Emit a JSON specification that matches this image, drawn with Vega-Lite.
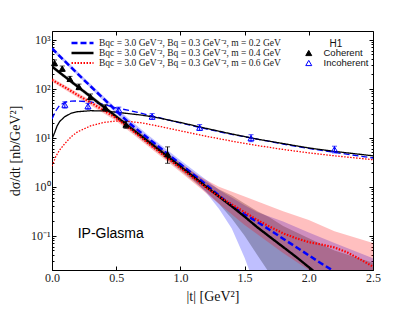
{
  "$schema": "https://vega.github.io/schema/vega-lite/v6.json",
  "width": 321,
  "height": 239,
  "autosize": {"type": "none"},
  "padding": {"left": 52, "top": 31, "right": 42, "bottom": 42},
  "config": {
    "view": {"stroke": "black", "strokeWidth": 1},
    "axis": {"grid": false, "domain": false, "tickColor": "black", "labelFont": "Liberation Serif", "labelFontSize": 12, "labelColor": "#222", "titleFont": "Liberation Serif", "titleFontSize": 14, "titleFontWeight": "normal", "titleColor": "#111", "labelFlush": false, "labelOverlap": false, "labelBound": false}
  },
  "datasets": {
    "coh": [
      {"m": "0.2", "t": 0, "v": 661}, {"m": "0.2", "t": 0.1, "v": 363}, {"m": "0.2", "t": 0.2, "v": 200}, {"m": "0.2", "t": 0.3, "v": 112}, {"m": "0.2", "t": 0.4, "v": 63.1}, {"m": "0.2", "t": 0.5, "v": 35.5}, {"m": "0.2", "t": 0.6, "v": 20.0}, {"m": "0.2", "t": 0.7, "v": 12.3}, {"m": "0.2", "t": 0.8, "v": 7.59}, {"m": "0.2", "t": 0.9, "v": 4.68}, {"m": "0.2", "t": 1.0, "v": 2.88}, {"m": "0.2", "t": 1.1, "v": 1.78}, {"m": "0.2", "t": 1.2, "v": 1.10}, {"m": "0.2", "t": 1.3, "v": 0.661}, {"m": "0.2", "t": 1.4, "v": 0.407}, {"m": "0.2", "t": 1.5, "v": 0.275}, {"m": "0.2", "t": 1.6, "v": 0.191}, {"m": "0.2", "t": 1.7, "v": 0.129}, {"m": "0.2", "t": 1.8, "v": 0.0871}, {"m": "0.2", "t": 1.9, "v": 0.0589}, {"m": "0.2", "t": 2.0, "v": 0.0398}, {"m": "0.2", "t": 2.1, "v": 0.0269}, {"m": "0.2", "t": 2.2, "v": 0.0186}, {"m": "0.2", "t": 2.3, "v": 0.0126},
      {"m": "0.4", "t": 0, "v": 282}, {"m": "0.4", "t": 0.1, "v": 176}, {"m": "0.4", "t": 0.2, "v": 110}, {"m": "0.4", "t": 0.3, "v": 68.9}, {"m": "0.4", "t": 0.4, "v": 43.1}, {"m": "0.4", "t": 0.5, "v": 26.9}, {"m": "0.4", "t": 0.6, "v": 16.8}, {"m": "0.4", "t": 0.7, "v": 10.5}, {"m": "0.4", "t": 0.8, "v": 6.58}, {"m": "0.4", "t": 0.9, "v": 4.11}, {"m": "0.4", "t": 1.0, "v": 2.57}, {"m": "0.4", "t": 1.1, "v": 1.61}, {"m": "0.4", "t": 1.2, "v": 1.0}, {"m": "0.4", "t": 1.3, "v": 0.631}, {"m": "0.4", "t": 1.4, "v": 0.398}, {"m": "0.4", "t": 1.5, "v": 0.245}, {"m": "0.4", "t": 1.6, "v": 0.148}, {"m": "0.4", "t": 1.7, "v": 0.0933}, {"m": "0.4", "t": 1.8, "v": 0.0589}, {"m": "0.4", "t": 1.9, "v": 0.0372}, {"m": "0.4", "t": 2.0, "v": 0.0229}, {"m": "0.4", "t": 2.1, "v": 0.0141},
      {"m": "0.6", "t": 0, "v": 151}, {"m": "0.6", "t": 0.1, "v": 107}, {"m": "0.6", "t": 0.2, "v": 74.1}, {"m": "0.6", "t": 0.3, "v": 52.5}, {"m": "0.6", "t": 0.4, "v": 36.3}, {"m": "0.6", "t": 0.5, "v": 25.1}, {"m": "0.6", "t": 0.6, "v": 15.8}, {"m": "0.6", "t": 0.7, "v": 9.77}, {"m": "0.6", "t": 0.8, "v": 6.03}, {"m": "0.6", "t": 0.9, "v": 3.80}, {"m": "0.6", "t": 1.0, "v": 2.40}, {"m": "0.6", "t": 1.1, "v": 1.51}, {"m": "0.6", "t": 1.2, "v": 0.955}, {"m": "0.6", "t": 1.3, "v": 0.631}, {"m": "0.6", "t": 1.4, "v": 0.437}, {"m": "0.6", "t": 1.5, "v": 0.302}, {"m": "0.6", "t": 1.6, "v": 0.209}, {"m": "0.6", "t": 1.7, "v": 0.151}, {"m": "0.6", "t": 1.8, "v": 0.112}, {"m": "0.6", "t": 1.9, "v": 0.0891}, {"m": "0.6", "t": 2.0, "v": 0.0741}, {"m": "0.6", "t": 2.1, "v": 0.0661}, {"m": "0.6", "t": 2.2, "v": 0.0575}, {"m": "0.6", "t": 2.3, "v": 0.0457}, {"m": "0.6", "t": 2.4, "v": 0.0331}, {"m": "0.6", "t": 2.5, "v": 0.0234}
    ],
    "inc": [
      {"m": "0.2", "t": 0, "v": 24.0}, {"m": "0.2", "t": 0.03, "v": 35.5}, {"m": "0.2", "t": 0.06, "v": 45.7}, {"m": "0.2", "t": 0.1, "v": 52.5}, {"m": "0.2", "t": 0.15, "v": 55.6}, {"m": "0.2", "t": 0.2, "v": 56.2}, {"m": "0.2", "t": 0.3, "v": 53.7}, {"m": "0.2", "t": 0.4, "v": 47.9}, {"m": "0.2", "t": 0.5, "v": 40.7}, {"m": "0.2", "t": 0.6, "v": 35.9}, {"m": "0.2", "t": 0.7, "v": 31.3}, {"m": "0.2", "t": 0.8, "v": 26.9}, {"m": "0.2", "t": 1.0, "v": 20.0}, {"m": "0.2", "t": 1.2, "v": 15.1}, {"m": "0.2", "t": 1.4, "v": 11.7}, {"m": "0.2", "t": 1.6, "v": 9.33}, {"m": "0.2", "t": 1.8, "v": 7.41}, {"m": "0.2", "t": 2.0, "v": 6.03}, {"m": "0.2", "t": 2.2, "v": 5.01}, {"m": "0.2", "t": 2.5, "v": 3.85},
      {"m": "0.4", "t": 0, "v": 9.33}, {"m": "0.4", "t": 0.02, "v": 12.6}, {"m": "0.4", "t": 0.04, "v": 17.4}, {"m": "0.4", "t": 0.06, "v": 21.4}, {"m": "0.4", "t": 0.1, "v": 26.9}, {"m": "0.4", "t": 0.15, "v": 31.6}, {"m": "0.4", "t": 0.2, "v": 33.9}, {"m": "0.4", "t": 0.3, "v": 35.5}, {"m": "0.4", "t": 0.4, "v": 35.1}, {"m": "0.4", "t": 0.5, "v": 33.1}, {"m": "0.4", "t": 0.6, "v": 30.9}, {"m": "0.4", "t": 0.7, "v": 28.8}, {"m": "0.4", "t": 0.8, "v": 26.3}, {"m": "0.4", "t": 1.0, "v": 20.4}, {"m": "0.4", "t": 1.2, "v": 15.5}, {"m": "0.4", "t": 1.4, "v": 11.9}, {"m": "0.4", "t": 1.6, "v": 9.33}, {"m": "0.4", "t": 1.8, "v": 7.59}, {"m": "0.4", "t": 2.0, "v": 6.17}, {"m": "0.4", "t": 2.2, "v": 5.25}, {"m": "0.4", "t": 2.5, "v": 4.27},
      {"m": "0.6", "t": 0, "v": 2.63}, {"m": "0.6", "t": 0.03, "v": 4.17}, {"m": "0.6", "t": 0.06, "v": 5.62}, {"m": "0.6", "t": 0.1, "v": 7.59}, {"m": "0.6", "t": 0.15, "v": 10.5}, {"m": "0.6", "t": 0.2, "v": 13.2}, {"m": "0.6", "t": 0.3, "v": 17.4}, {"m": "0.6", "t": 0.4, "v": 20.4}, {"m": "0.6", "t": 0.5, "v": 21.9}, {"m": "0.6", "t": 0.6, "v": 21.4}, {"m": "0.6", "t": 0.7, "v": 20.0}, {"m": "0.6", "t": 0.8, "v": 17.8}, {"m": "0.6", "t": 1.0, "v": 13.8}, {"m": "0.6", "t": 1.2, "v": 10.7}, {"m": "0.6", "t": 1.4, "v": 8.51}, {"m": "0.6", "t": 1.6, "v": 6.92}, {"m": "0.6", "t": 1.8, "v": 5.75}, {"m": "0.6", "t": 2.0, "v": 4.90}, {"m": "0.6", "t": 2.2, "v": 4.27}, {"m": "0.6", "t": 2.5, "v": 3.55}
    ],
    "band": [
      {"m": "0.2", "t": 0, "lo": 603, "hi": 724}, {"m": "0.2", "t": 0.25, "lo": 138, "hi": 166}, {"m": "0.2", "t": 0.5, "lo": 30.9, "hi": 39.8}, {"m": "0.2", "t": 0.75, "lo": 8.51, "hi": 11.2}, {"m": "0.2", "t": 1.0, "lo": 2.40, "hi": 3.47}, {"m": "0.2", "t": 1.1, "lo": 1.41, "hi": 2.19}, {"m": "0.2", "t": 1.2, "lo": 0.759, "hi": 1.38}, {"m": "0.2", "t": 1.3, "lo": 0.355, "hi": 0.871}, {"m": "0.2", "t": 1.4, "lo": 0.141, "hi": 0.603}, {"m": "0.2", "t": 1.5, "lo": 0.0355, "hi": 0.417}, {"m": "0.2", "t": 1.55, "lo": 0.0158, "hi": 0.355}, {"m": "0.2", "t": 1.6, "lo": 0.0063, "hi": 0.302}, {"m": "0.2", "t": 1.8, "lo": 0.003, "hi": 0.195}, {"m": "0.2", "t": 2.0, "lo": 0.002, "hi": 0.117}, {"m": "0.2", "t": 2.2, "lo": 0.0015, "hi": 0.0708}, {"m": "0.2", "t": 2.5, "lo": 0.001, "hi": 0.0347},
      {"m": "0.4", "t": 0, "lo": 257, "hi": 309}, {"m": "0.4", "t": 0.5, "lo": 24.0, "hi": 30.2}, {"m": "0.4", "t": 1.0, "lo": 2.14, "hi": 3.09}, {"m": "0.4", "t": 1.2, "lo": 0.794, "hi": 1.26}, {"m": "0.4", "t": 1.3, "lo": 0.447, "hi": 0.891}, {"m": "0.4", "t": 1.4, "lo": 0.224, "hi": 0.661}, {"m": "0.4", "t": 1.5, "lo": 0.1, "hi": 0.457}, {"m": "0.4", "t": 1.6, "lo": 0.0398, "hi": 0.316}, {"m": "0.4", "t": 1.69, "lo": 0.0178, "hi": 0.240}, {"m": "0.4", "t": 1.8, "lo": 0.0063, "hi": 0.158}, {"m": "0.4", "t": 2.0, "lo": 0.0025, "hi": 0.0891}, {"m": "0.4", "t": 2.2, "lo": 0.0016, "hi": 0.0501}, {"m": "0.4", "t": 2.5, "lo": 0.001, "hi": 0.0282},
      {"m": "0.6", "t": 0, "lo": 138, "hi": 166}, {"m": "0.6", "t": 0.5, "lo": 21.9, "hi": 28.8}, {"m": "0.6", "t": 1.0, "lo": 2.0, "hi": 3.02}, {"m": "0.6", "t": 1.15, "lo": 0.955, "hi": 1.62}, {"m": "0.6", "t": 1.3, "lo": 0.447, "hi": 1.0}, {"m": "0.6", "t": 1.5, "lo": 0.166, "hi": 0.631}, {"m": "0.6", "t": 1.8, "lo": 0.0447, "hi": 0.316}, {"m": "0.6", "t": 2.0, "lo": 0.02, "hi": 0.209}, {"m": "0.6", "t": 2.2, "lo": 0.0079, "hi": 0.123}, {"m": "0.6", "t": 2.5, "lo": 0.0032, "hi": 0.0708}
    ],
    "h1": [
      {"kind": "Coherent", "t": 0.02, "v": 333, "lo": 290, "hi": 385},
      {"kind": "Coherent", "t": 0.08, "v": 256, "lo": 225, "hi": 290},
      {"kind": "Coherent", "t": 0.14, "v": 158, "lo": 140, "hi": 178},
      {"kind": "Coherent", "t": 0.21, "v": 109, "lo": 95, "hi": 124},
      {"kind": "Coherent", "t": 0.30, "v": 68, "lo": 59, "hi": 78},
      {"kind": "Coherent", "t": 0.415, "v": 41, "lo": 35, "hi": 47},
      {"kind": "Coherent", "t": 0.576, "v": 18.4, "lo": 15.5, "hi": 21.5},
      {"kind": "Coherent", "t": 0.90, "v": 4.6, "lo": 3.0, "hi": 6.5},
      {"kind": "Incoherent", "t": 0.10, "v": 47, "lo": 40, "hi": 54},
      {"kind": "Incoherent", "t": 0.28, "v": 44, "lo": 38, "hi": 50},
      {"kind": "Incoherent", "t": 0.52, "v": 37, "lo": 32, "hi": 42},
      {"kind": "Incoherent", "t": 0.78, "v": 27, "lo": 23.5, "hi": 31},
      {"kind": "Incoherent", "t": 1.15, "v": 16, "lo": 14, "hi": 18.5},
      {"kind": "Incoherent", "t": 1.55, "v": 9.8, "lo": 8.3, "hi": 11.5},
      {"kind": "Incoherent", "t": 2.2, "v": 5.8, "lo": 4.9, "hi": 6.7}
    ],
    "note": [{"label": "IP-Glasma"}]
  },
  "layer": [
    {
      "data": {"name": "band"},
      "mark": {"type": "area", "clip": true, "opacity": 0.25},
      "encoding": {
        "x": {"field": "t", "type": "quantitative", "scale": {"domain": [0, 2.5], "nice": false, "zero": false},
              "axis": {"orient": "bottom", "values": [0, 0.5, 1, 1.5, 2, 2.5], "format": ".1f", "tickSize": -4, "labelPadding": 6, "title": "|t| [GeV²]", "titlePadding": 6}},
        "y": {"field": "lo", "type": "quantitative", "scale": {"type": "log", "domain": [0.02, 1500], "nice": false},
              "axis": {"orient": "left", "values": [0.1, 1, 10, 100, 1000], "tickSize": -4, "labelPadding": 6, "title": "dσ/dt [nb/GeV²]", "titlePadding": 8,
                       "labelExpr": "datum.value >= 999 ? '10³' : datum.value >= 99 ? '10²' : datum.value >= 9 ? '10¹' : datum.value >= 0.9 ? '10⁰' : '10⁻¹'"}},
        "y2": {"field": "hi"},
        "fill": {"field": "m", "type": "nominal", "scale": {"domain": ["0.2", "0.4", "0.6"], "range": ["#0000ff", "#000000", "#ff0000"]}, "legend": null}
      }
    },
    {
      "data": {"name": "inc"},
      "mark": {"type": "line", "clip": true, "strokeWidth": 1.3},
      "encoding": {
        "x": {"field": "t", "type": "quantitative", "axis": null},
        "y": {"field": "v", "type": "quantitative", "scale": {"type": "log"},
              "axis": {"orient": "left", "values": [0.02,0.03,0.04,0.05,0.06,0.07,0.08,0.09,0.2,0.3,0.4,0.5,0.6,0.7,0.8,0.9,2,3,4,5,6,7,8,9,20,30,40,50,60,70,80,90,200,300,400,500,600,700,800,900], "labels": false, "tickSize": -2, "title": null}},
        "stroke": {"field": "m", "type": "nominal", "scale": {"domain": ["0.2", "0.4", "0.6"], "range": ["#0000ff", "#000000", "#ff0000"]}, "legend": null},
        "strokeDash": {"field": "m", "type": "nominal", "scale": {"domain": ["0.2", "0.4", "0.6"], "range": [[6, 3], [1, 0], [1.5, 1.5]]}, "legend": null}
      }
    },
    {
      "data": {"name": "coh"},
      "mark": {"type": "line", "clip": true},
      "encoding": {
        "x": {"field": "t", "type": "quantitative", "axis": {"orient": "top", "values": [0, 0.5, 1, 1.5, 2, 2.5], "labels": false, "tickSize": -4, "title": null}},
        "y": {"field": "v", "type": "quantitative", "scale": {"type": "log"},
              "axis": {"orient": "right", "values": [0.1, 1, 10, 100, 1000], "labels": false, "tickSize": -4, "title": null}},
        "stroke": {"field": "m", "type": "nominal", "scale": {"domain": ["0.2", "0.4", "0.6"], "range": ["#0000ff", "#000000", "#ff0000"]},
                   "legend": {"title": null, "orient": "none", "legendX": 18, "legendY": 7.5, "symbolType": "stroke", "symbolSize": 484, "clipHeight": 9, "rowPadding": 0, "padding": 0, "labelOffset": 4, "labelLimit": 400, "labelFont": "Liberation Serif", "labelFontSize": 9.5, "labelFontWeight": "normal", "labelColor": "#222", "labelExpr": "'Bqc = 3.0 GeV⁻², Bq = 0.3 GeV⁻², m = ' + datum.label + ' GeV'"}},
        "strokeDash": {"field": "m", "type": "nominal", "scale": {"domain": ["0.2", "0.4", "0.6"], "range": [[6, 3], [1, 0], [1.5, 1.5]]},
                   "legend": {"title": null, "orient": "none", "legendX": 18, "legendY": 7.5, "symbolType": "stroke", "symbolSize": 484, "clipHeight": 9, "rowPadding": 0, "padding": 0, "labelOffset": 4, "labelLimit": 400, "labelFont": "Liberation Serif", "labelFontSize": 9.5, "labelFontWeight": "normal", "labelColor": "#222", "labelExpr": "'Bqc = 3.0 GeV⁻², Bq = 0.3 GeV⁻², m = ' + datum.label + ' GeV'"}},
        "strokeWidth": {"field": "m", "type": "nominal", "scale": {"domain": ["0.2", "0.4", "0.6"], "range": [2.5, 2.2, 1.6]},
                   "legend": {"title": null, "orient": "none", "legendX": 18, "legendY": 7.5, "symbolType": "stroke", "symbolSize": 484, "clipHeight": 9, "rowPadding": 0, "padding": 0, "labelOffset": 4, "labelLimit": 400, "labelFont": "Liberation Serif", "labelFontSize": 9.5, "labelFontWeight": "normal", "labelColor": "#222", "labelExpr": "'Bqc = 3.0 GeV⁻², Bq = 0.3 GeV⁻², m = ' + datum.label + ' GeV'"}}
      }
    },
    {
      "data": {"name": "h1"},
      "transform": [{"filter": "datum.kind == 'Coherent'"}],
      "mark": {"type": "errorbar", "ticks": true, "color": "black", "thickness": 1},
      "encoding": {
        "x": {"field": "t", "type": "quantitative", "axis": null},
        "y": {"field": "lo", "type": "quantitative", "scale": {"type": "log"}, "axis": null},
        "y2": {"field": "hi"}
      }
    },
    {
      "data": {"name": "h1"},
      "transform": [{"filter": "datum.kind == 'Incoherent'"}],
      "mark": {"type": "errorbar", "ticks": true, "color": "#0000ff", "thickness": 1},
      "encoding": {
        "x": {"field": "t", "type": "quantitative", "axis": null},
        "y": {"field": "lo", "type": "quantitative", "scale": {"type": "log"}, "axis": null},
        "y2": {"field": "hi"}
      }
    },
    {
      "data": {"name": "h1"},
      "mark": {"type": "point", "shape": "triangle-up", "filled": true, "size": 36, "strokeWidth": 1, "opacity": 1},
      "encoding": {
        "x": {"field": "t", "type": "quantitative", "axis": null},
        "y": {"field": "v", "type": "quantitative", "scale": {"type": "log"},
              "axis": {"orient": "right", "values": [0.02,0.03,0.04,0.05,0.06,0.07,0.08,0.09,0.2,0.3,0.4,0.5,0.6,0.7,0.8,0.9,2,3,4,5,6,7,8,9,20,30,40,50,60,70,80,90,200,300,400,500,600,700,800,900], "labels": false, "tickSize": -2, "title": null}},
        "fill": {"field": "kind", "type": "nominal", "scale": {"domain": ["Coherent", "Incoherent"], "range": ["black", "transparent"]},
                 "legend": {"title": "H1", "orient": "none", "legendX": 252, "legendY": 7.5, "titleFont": "Liberation Sans", "titleFontSize": 10, "titleFontWeight": "normal", "titlePadding": 0, "titleColor": "#111", "titleAnchor": "middle", "labelFont": "Liberation Sans", "labelFontSize": 9.5, "labelColor": "#111", "clipHeight": 9, "rowPadding": 0, "padding": 0, "symbolType": "triangle-up", "symbolSize": 36, "symbolStrokeWidth": 1, "labelOffset": 10}},
        "stroke": {"field": "kind", "type": "nominal", "scale": {"domain": ["Coherent", "Incoherent"], "range": ["black", "#0000ff"]},
                 "legend": {"title": "H1", "orient": "none", "legendX": 252, "legendY": 7.5, "titleFont": "Liberation Sans", "titleFontSize": 10, "titleFontWeight": "normal", "titlePadding": 0, "titleColor": "#111", "titleAnchor": "middle", "labelFont": "Liberation Sans", "labelFontSize": 9.5, "labelColor": "#111", "clipHeight": 9, "rowPadding": 0, "padding": 0, "symbolType": "triangle-up", "symbolSize": 36, "symbolStrokeWidth": 1, "labelOffset": 10}}
      }
    },
    {
      "data": {"name": "note"},
      "mark": {"type": "text", "align": "left", "baseline": "middle", "font": "Liberation Sans", "fontSize": 14, "color": "black"},
      "encoding": {
        "x": {"datum": 0.2, "type": "quantitative", "axis": null},
        "y": {"datum": 0.11, "type": "quantitative", "scale": {"type": "log"}, "axis": null},
        "text": {"field": "label", "type": "nominal"}
      }
    }
  ],
  "resolve": {
    "axis": {"x": "independent", "y": "independent"},
    "scale": {"fill": "independent", "stroke": "independent", "strokeDash": "independent", "strokeWidth": "independent"}
  }
}
